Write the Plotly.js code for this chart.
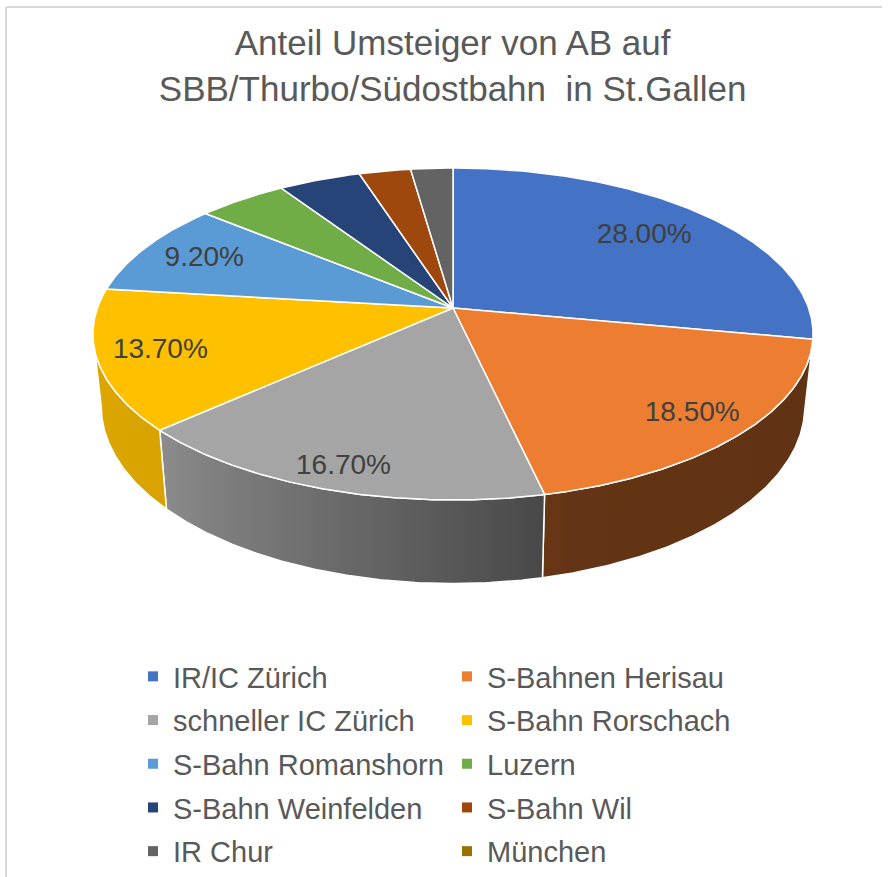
<!DOCTYPE html>
<html><head><meta charset="utf-8">
<script src="https://cdn.plot.ly/plotly-3.0.1.min.js"></script>
<style>html,body{margin:0;padding:0;background:#fff}</style>
</head><body><div id="chart" style="width:891px;height:877px"></div>
<script>
// ---------- data ----------
const categories = ["IR/IC Zürich","S-Bahnen Herisau","schneller IC Zürich","S-Bahn Rorschach","S-Bahn Romanshorn","Luzern","S-Bahn Weinfelden","S-Bahn Wil","IR Chur","München"];
const shares = [28.0, 18.5, 16.7, 13.7, 9.2, 4.7, 4.3, 2.7, 2.2, 0];
const titleText = "Anteil Umsteiger von AB auf<br>SBB/Thurbo/Südostbahn  in St.Gallen";

// ---------- styles ----------
const colors = ["#4472C4","#ED7D31","#A5A5A5","#FFC000","#5B9BD5","#70AD47","#264478","#9E480E","#636363","#997300"];
const labelRadius = [0.75, 0.85, 0.89, 0.83, 0.80, null, null, null, null, null];
const geo = {cx:453, cy:308, b:355.6, a:161.9, p:0.1566, depth:70.5, bottomScale:0.977};
const light = [[90,0.40],[165,0.42],[197,0.65],[228,0.85],[270,0.88]];
const FONT = "Liberation Sans, Arial, sans-serif";

function shade(t){
  if (t <= light[0][0]) return light[0][1];
  for (let i=1;i<light.length;i++){
    if (t <= light[i][0]){
      const [t0,f0]=light[i-1],[t1,f1]=light[i];
      return f0 + (f1-f0)*(t-t0)/(t1-t0);
    }
  }
  return light[light.length-1][1];
}
function hexRgb(h){return [parseInt(h.slice(1,3),16),parseInt(h.slice(3,5),16),parseInt(h.slice(5,7),16)];}
function scaleCol(h,f){const c=hexRgb(h);return 'rgb('+c.map(v=>Math.round(v*f)).join(',')+')';}

function proj(tDeg, r, bottom){
  const t = tDeg*Math.PI/180;
  const u = r*Math.sin(t), v = r*Math.cos(t);
  const s = 1/(1+geo.p*v);
  const k = bottom ? geo.bottomScale : 1;
  return [geo.cx + geo.b*u*s*k, geo.cy - geo.a*v*s + (bottom ? geo.depth*s : 0)];
}
function arc(t1,t2,bottom){
  const n = Math.max(2, Math.ceil(Math.abs(t2-t1)/0.5));
  const pts=[];
  for(let i=0;i<=n;i++){pts.push(proj(t1+(t2-t1)*i/n,1,bottom));}
  return pts;
}

const total = shares.reduce((a,b)=>a+b,0);
const starts=[], ends=[];
let acc=0;
shares.forEach(v=>{starts.push(acc/total*360); acc+=v; ends.push(acc/total*360);});

const traces=[];
// walls (front side)
const tR = Math.acos(-geo.p)*180/Math.PI, tL = 360 - tR;
shares.forEach((v,i)=>{
  if(v<=0) return;
  const lo=Math.max(starts[i],tR), hi=Math.min(ends[i],tL);
  if(hi<=lo) return;
  const top=arc(lo,hi,false), bot=arc(hi,lo,true);
  const pts=top.concat(bot); pts.push(top[0]);
  const xs=pts.map(p=>p[0]), ys=pts.map(p=>p[1]);
  const xmin=Math.min(...xs), xmax=Math.max(...xs);
  const stops=[];
  const n=16;
  for(let j=0;j<=n;j++){
    const t=lo+(hi-lo)*j/n;
    const x=proj(t,1,false)[0];
    stops.push([(x-xmin)/(xmax-xmin), scaleCol(colors[i],shade(t))]);
  }
  stops.sort((a,b)=>a[0]-b[0]);
  stops[0][0]=0; stops[stops.length-1][0]=1;
  const cs=[]; stops.forEach(s=>{ if(!cs.length || s[0]>cs[cs.length-1][0]+1e-6) cs.push(s); });
  cs[cs.length-1][0]=1;
  traces.push({type:'scatter',mode:'lines',x:xs,y:ys,fill:'toself',
    fillcolor:scaleCol(colors[i],shade((lo+hi)/2)),
    fillgradient:{type:'horizontal',colorscale:cs,start:xmin,stop:xmax},
    line:{color:'#ffffff',width:1.5},hoverinfo:'skip',showlegend:false});
});
// top faces
shares.forEach((v,i)=>{
  if(v<=0) return;
  const pts=[[geo.cx,geo.cy]].concat(arc(starts[i],ends[i],false)); pts.push([geo.cx,geo.cy]);
  traces.push({type:'scatter',mode:'lines',x:pts.map(p=>p[0]),y:pts.map(p=>p[1]),fill:'toself',
    fillcolor:colors[i],line:{color:'#ffffff',width:1.5},hoverinfo:'skip',showlegend:false,
    name:categories[i]});
});
// labels
const lx=[],ly=[],lt=[];
shares.forEach((v,i)=>{
  if(labelRadius[i]==null||v<=0) return;
  const p=proj((starts[i]+ends[i])/2,labelRadius[i],false);
  lx.push(p[0]); ly.push(p[1]); lt.push(v.toFixed(2)+'%');
});
traces.push({type:'scatter',mode:'text',x:lx,y:ly,text:lt,textposition:'middle center',
  textfont:{family:FONT,size:28,color:'#404040'},hoverinfo:'skip',showlegend:false});
// legend entries: two columns (even index -> left column, odd -> right column)
categories.forEach((c,i)=>{
  traces.push({type:'scatter',mode:'markers',x:[null],y:[null],name:c,
    legend: (i%2===0) ? 'legend' : 'legend2', legendgroup:'g'+i,
    marker:{symbol:'square',size:10,color:colors[i]},showlegend:true});
});

const legendBase = {orientation:'v',xanchor:'left',y:1-651/877,yanchor:'top',
  itemwidth:30,traceorder:'grouped',tracegroupgap:3,
  font:{family:FONT,size:29,color:'#595959'},bgcolor:'rgba(0,0,0,0)'};

const layout={
  width:891,height:877,margin:{l:0,r:0,t:0,b:0},
  paper_bgcolor:'#ffffff',plot_bgcolor:'#ffffff',
  font:{family:FONT,color:'#595959'},
  title:{text:titleText,x:0.508,xanchor:'center',y:1-55/877,yanchor:'top',
    font:{family:FONT,size:35,color:'#595959'}},
  xaxis:{range:[0,891],visible:false,fixedrange:true},
  yaxis:{range:[877,0],visible:false,fixedrange:true},
  showlegend:true,
  legend:Object.assign({},legendBase,{x:133/891}),
  legend2:Object.assign({},legendBase,{x:447/891}),
  shapes:[
    {type:'line',xref:'paper',yref:'paper',x0:6/891,x1:882/891,y0:1-7/877,y1:1-7/877,line:{color:'#d9d9d9',width:2}},
    {type:'line',xref:'paper',yref:'paper',x0:6/891,x1:6/891,y0:1-7/877,y1:0,line:{color:'#d9d9d9',width:2}}
  ]
};
Plotly.newPlot('chart',traces,layout,{staticPlot:true,displayModeBar:false});
</script></body></html>
